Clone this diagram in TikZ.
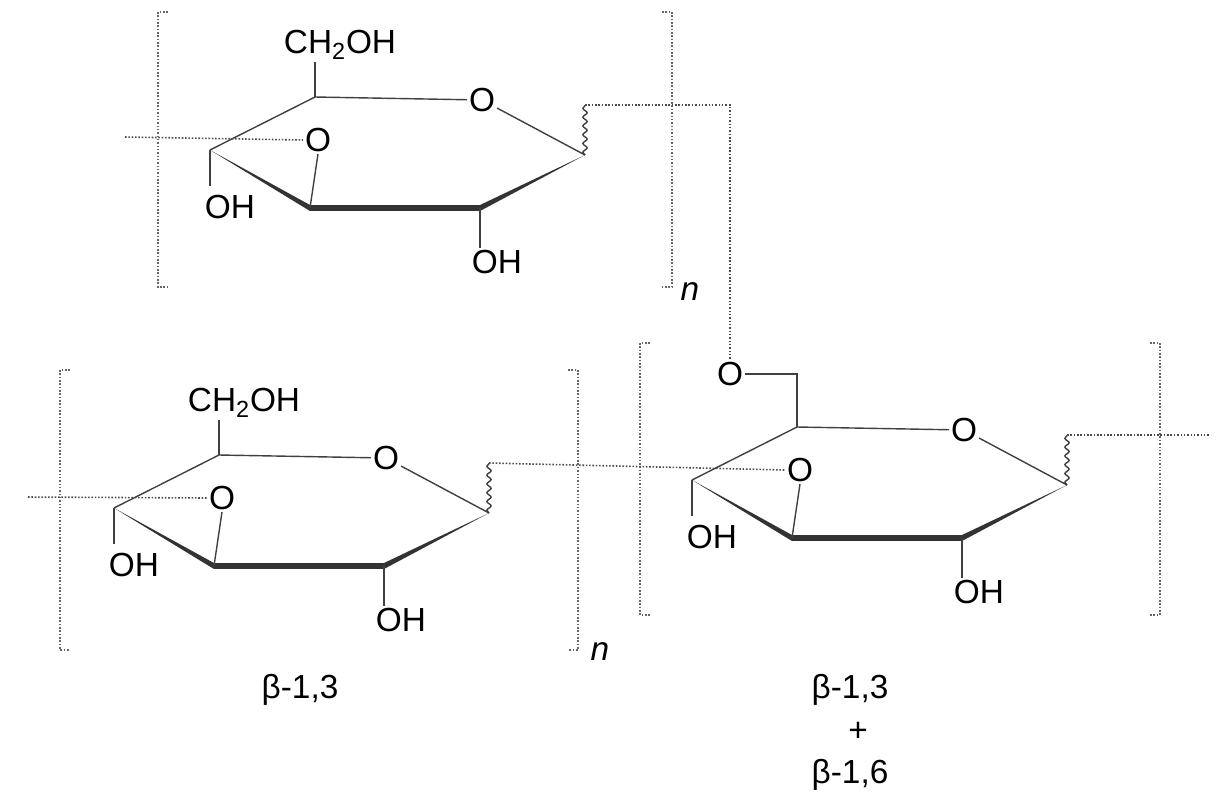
\documentclass[tikz,border=0pt]{standalone}
\usepackage{fontspec}
\setmainfont{Liberation Sans}
\usetikzlibrary{calc,decorations.pathmorphing}
\tikzset{
  lbl/.style={inner sep=1pt,font=\fontsize{19}{22}\selectfont},
  bond/.style={line width=0.8pt,black!75},
  thickbond/.style={line width=3pt,black!80},
  brk/.style={line width=0.9pt,black!60,densely dotted},
  link/.style={line width=0.9pt,black!70,densely dotted},
  wavy/.style={line width=0.8pt,decorate,decoration={snake,amplitude=1.2pt,segment length=5pt}}
}
\newcommand\sugar[4]{%
\begin{scope}[shift={(#2,#3)}]
\coordinate (#1C4) at (210,150);
\coordinate (#1C5) at (315,97);
\coordinate (#1C1) at (585,155);
\coordinate (#1C2) at (480,208);
\coordinate (#1C3) at (310,208);
\coordinate (#1C1up) at (585,105);
\node[lbl] (#1Or) at (482,100) {O};
\node[lbl] (#1O3) at (318,140) {O};
\node[lbl] (#1OH4) at (230,207) {OH};
\node[lbl] (#1OH2) at (497,262) {OH};
\draw[bond] (#1C4)--(#1C5)--(#1Or)--(#1C1);
\fill[black!80] (#1C4) -- ($(#1C3)+(0,-3)$) -- ($(#1C3)+(0,3)$) -- cycle;
\draw[thickbond] (#1C3) -- (#1C2);
\fill[black!80] ($(#1C2)+(0,-3)$) -- (#1C1) -- ($(#1C2)+(0,3)$) -- cycle;
\draw[bond] (#1C3) -- (#1O3.south);
\draw[bond] (#1C4) -- ++(0,36);
\draw[bond] (#1C2) -- (#1C2 |- #1OH2.north);
\draw[bond,wavy] (#1C1) -- (#1C1up);
\ifnum#4=1
\node[lbl] (#1CH) at (340,45) {CH\textsubscript{2}OH};
\draw[bond] (#1C5) -- (#1C5 |- #1CH.south);
\else
\node[lbl] (#1O6) at (248,44) {O};
\draw[bond] (#1C5) -- (315,44) -- (#1O6.east);
\fi
\end{scope}}
\begin{document}
\begin{tikzpicture}[x=0.02cm,y=-0.02cm]
\useasboundingbox (0,0) rectangle (1225,806);
\sugar{t}{0}{0}{1}
\sugar{b}{-96}{358}{1}
\sugar{r}{482}{330}{0}
% brackets
\draw[brk] (168,12) -- (158,12) -- (158,287) -- (168,287);
\draw[brk] (662,12) -- (672,12) -- (672,287) -- (662,287);
\draw[brk] (70,370) -- (60,370) -- (60,650) -- (70,650);
\draw[brk] (568,370) -- (578,370) -- (578,650) -- (568,650);
\draw[brk] (650,343) -- (640,343) -- (640,615) -- (650,615);
\draw[brk] (1150,343) -- (1160,343) -- (1160,615) -- (1150,615);
\node[lbl,font=\fontsize{19}{22}\itshape] (n1) at (690,292) {n};
\node[lbl,font=\fontsize{19}{22}\itshape] (n2) at (600,652) {n};
% links
\coordinate (tL) at (125,137);
\coordinate (bL) at (28,497);
\coordinate (rR) at (1210,435);
\draw[link] (tL) -- (tO3.west);
\draw[link] (bL) -- (bO3.west);
\draw[link] (tC1up) -| (rO6.north);
\draw[link] (bC1up) -- (rO3.west);
\draw[link] (rC1up) -- (rR);
% labels
\node[lbl] (l1) at (300,690) {β-1,3};
\node[lbl] (l2) at (850,690) {β-1,3};
\node[lbl] (l3) at (858,732) {+};
\node[lbl] (l4) at (850,775) {β-1,6};
\end{tikzpicture}
\end{document}
